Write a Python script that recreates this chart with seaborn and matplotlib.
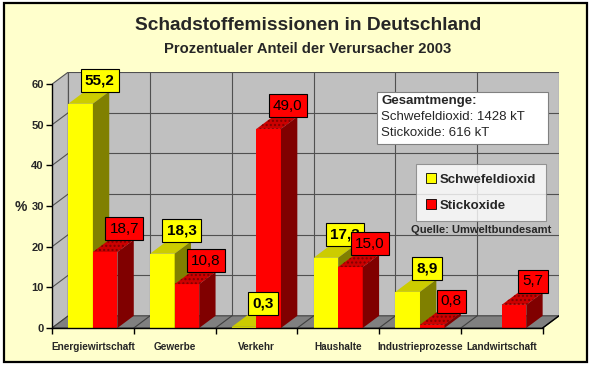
import numpy as np
import pandas as pd
import seaborn as sns
import matplotlib.pyplot as plt
from matplotlib.patches import Polygon, Rectangle, Patch

sns.set_style("white")
plt.rcParams['font.family'] = ['Liberation Sans', 'DejaVu Sans']

categories = ['Energiewirtschaft', 'Gewerbe', 'Verkehr', 'Haushalte', 'Industrieprozesse', 'Landwirtschaft']
schwefeldioxid = [55.2, 18.3, 0.3, 17.3, 8.9, 0.0]
stickoxide = [18.7, 10.8, 49.0, 15.0, 0.8, 5.7]
series = ['Schwefeldioxid', 'Stickoxide']
y_ticks = [0, 10, 20, 30, 40, 50, 60]

# farben: vorderseite, oberseite, seite
YELLOW = ('#FFFF00', '#CCCC00', '#808000')
RED = ('#FF0000', '#CC0000', '#800000')
BG = '#FFFFCC'
WALL = '#C0C0C0'
FLOOR = '#808080'
GRID = '#505050'

DX = 0.2   # tiefe in kategorie-einheiten
DY = 3.0   # tiefe in y-einheiten

W, H = 591, 367


def fx(px):
    return px / W


def fy(py):
    return 1 - py / H


df = pd.DataFrame({
    'Verursacher': categories * 2,
    'Anteil': schwefeldioxid + stickoxide,
    'Stoff': [series[0]] * len(categories) + [series[1]] * len(categories),
})

fig = plt.figure(figsize=(W / 100, H / 100), dpi=100, facecolor='white')
fig.patches.append(Rectangle((fx(4), fy(362)), fx(587) - fx(4), fy(3) - fy(362),
                             transform=fig.transFigure, facecolor=BG, edgecolor='black',
                             linewidth=1.6, zorder=-10))

ax = fig.add_axes([fx(52), fy(328), fx(559) - fx(52), fy(72) - fy(328)])
ax.set_facecolor('none')

sns.barplot(data=df, x='Verursacher', y='Anteil', hue='Stoff', hue_order=series,
            palette=[YELLOW[0], RED[0]], width=0.6, gap=0, saturation=1,
            legend=False, ax=ax)
bars = [p for p in ax.patches]

n = len(categories)
x0, x1 = -0.5, n - 0.5
ymax = y_ticks[-1]

# rueckwand, seitenwand, boden
ax.add_patch(Rectangle((x0 + DX, DY), n, ymax, facecolor=WALL, edgecolor=GRID, lw=0.8, zorder=0))
ax.add_patch(Polygon([(x0, 0), (x0, ymax), (x0 + DX, ymax + DY), (x0 + DX, DY)],
                     facecolor=WALL, edgecolor=GRID, lw=0.8, zorder=0))
ax.add_patch(Polygon([(x0, 0), (x1, 0), (x1 + DX, DY), (x0 + DX, DY)],
                     facecolor=FLOOR, edgecolor='#404040', lw=0.8, zorder=0.5))
for t in y_ticks[1:-1]:
    ax.plot([x0 + DX, x1 + DX], [t + DY, t + DY], color=GRID, lw=0.8, zorder=0.3)
    ax.plot([x0, x0 + DX], [t, t + DY], color=GRID, lw=0.8, zorder=0.3)
for k in range(1, n):
    b = x0 + k
    ax.plot([b + DX, b + DX], [DY, ymax + DY], color=GRID, lw=0.8, zorder=0.3)
    ax.plot([b, b + DX], [0, DY], color='#404040', lw=0.8, zorder=0.6)
ax.plot([x1, x1 + DX], [0, DY], color='black', lw=1, zorder=0.6)

# 3d-flaechen an die balken setzen
for p in bars:
    h = p.get_height()
    is_red = p.get_facecolor()[1] < 0.5
    cols = RED if is_red else YELLOW
    z = 3 if is_red else 2
    p.set_zorder(z)
    p.set_edgecolor('none')
    if h <= 0:
        continue
    a, b = p.get_x(), p.get_x() + p.get_width()
    top = Polygon([(a, h), (b, h), (b + DX, h + DY), (a + DX, h + DY)],
                  facecolor=cols[1], edgecolor=cols[2] if is_red else 'none',
                  lw=0, hatch='....' if is_red else None, zorder=z)
    side = Polygon([(b, 0), (b + DX, DY), (b + DX, h + DY), (b, h)],
                   facecolor=cols[2], edgecolor='none', zorder=z)
    ax.add_patch(top)
    ax.add_patch(side)
    label = f"{h:.1f}".replace('.', ',')
    ax.annotate(label, xy=((a + b) / 2 + DX, h + DY), xytext=(2, 3), textcoords='offset points',
                ha='center', va='bottom', fontsize=11,
                fontweight='normal' if is_red else 'bold', color='black', zorder=10,
                annotation_clip=False,
                bbox=dict(boxstyle='square,pad=0.28', facecolor=cols[0], edgecolor='black', lw=0.8))

ax.set_xlim(x0, x1 + DX)
ax.set_ylim(0, ymax + DY)
for s in ['top', 'right']:
    ax.spines[s].set_visible(False)
ax.spines['left'].set_bounds(0, ymax)
ax.spines['bottom'].set_bounds(x0, x1)
for s in ['left', 'bottom']:
    ax.spines[s].set_color('black')
    ax.spines[s].set_linewidth(1)
    ax.spines[s].set_zorder(5)

ax.set_yticks(y_ticks)
ax.set_yticklabels([str(t) for t in y_ticks], fontsize=8, fontweight='bold')
ax.tick_params(axis='y', direction='out', length=4, width=1, color='black', pad=2, left=True)
ax.set_xticks(range(n))
ax.set_xticklabels(categories, fontsize=7.2, fontweight='bold')
ax.set_xticks(np.arange(n + 1) - 0.5, minor=True)
ax.tick_params(axis='x', which='major', length=0, pad=10)
ax.tick_params(axis='x', which='minor', direction='out', length=4, width=1, color='black', bottom=True)
ax.set_xlabel('')
ax.set_ylabel('%', rotation=0, fontsize=10, fontweight='bold', ha='center', va='center')
ax.yaxis.set_label_coords(-0.061, 0.473)

# titel
fig.text(fx(308), fy(26), 'Schadstoffemissionen in Deutschland', ha='center', va='center',
         fontsize=13.8, fontweight='bold')
fig.text(fx(308), fy(49), 'Prozentualer Anteil der Verursacher 2003', ha='center', va='center',
         fontsize=10.6, fontweight='bold')

# infokasten
fig.patches.append(Rectangle((fx(377), fy(144)), fx(548) - fx(377), fy(92) - fy(144),
                             transform=fig.transFigure, facecolor='white', edgecolor='#808080',
                             lw=0.8, zorder=20))
fig.text(fx(381), fy(101), 'Gesamtmenge:', ha='left', va='center', fontsize=9.5, fontweight='bold', zorder=21)
fig.text(fx(381), fy(117), 'Schwefeldioxid: 1428 kT', ha='left', va='center', fontsize=9.5, zorder=21)
fig.text(fx(381), fy(133), 'Stickoxide: 616 kT', ha='left', va='center', fontsize=9.5, zorder=21)

handles = [Patch(facecolor=YELLOW[0], edgecolor='black', lw=0.6),
           Patch(facecolor=RED[0], edgecolor='black', lw=0.6)]
leg = fig.legend(handles, series, loc='center', bbox_to_anchor=(fx(481), fy(192.5)),
                 prop={'size': 9.5, 'weight': 'bold'}, frameon=True, fancybox=False,
                 handlelength=0.8, handleheight=0.8, handletextpad=0.3, labelspacing=1.0,
                 borderpad=0.7, borderaxespad=0)
leg.get_frame().set_edgecolor('#808080')
leg.get_frame().set_linewidth(0.8)
leg.set_zorder(20)

fig.text(fx(481), fy(230), 'Quelle: Umweltbundesamt', ha='center', va='center',
         fontsize=8, fontweight='bold')

fig.savefig('out.png', dpi=100, facecolor=fig.get_facecolor())
